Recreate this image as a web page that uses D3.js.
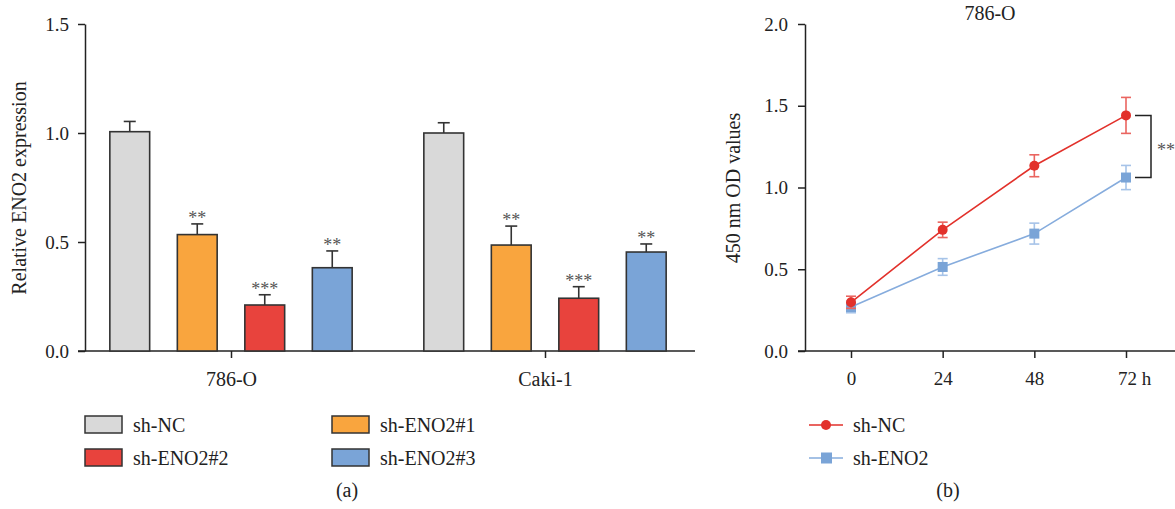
<!DOCTYPE html>
<html>
<head>
<meta charset="utf-8">
<script src="https://cdn.jsdelivr.net/npm/d3@7"></script>
<style>
  body { margin: 0; background: #fff; }
  svg { display: block; font-family: "Liberation Serif", "Times New Roman", serif; }
  .axis path, .axis line { stroke: #222; stroke-width: 1.5; }
  .axis text { font-size: 19px; fill: #222; font-family: "Liberation Serif", serif; }
</style>
</head>
<body>
<svg id="chart" width="1175" height="509"></svg>
<script>
// panel (a) data
const groups = ['786-O', 'Caki-1'];
const series = ['sh-NC', 'sh-ENO2#1', 'sh-ENO2#2', 'sh-ENO2#3'];
const barColors = ['#d9d9d9', '#f9a53e', '#e8433d', '#7aa4d7'];
const means786 = [1.006, 0.534, 0.211, 0.382];
const errs786 = [0.047, 0.049, 0.047, 0.077];
const meansCaki = [1.0, 0.486, 0.242, 0.454];
const errsCaki = [0.047, 0.087, 0.053, 0.037];
const stars786 = ['', '**', '***', '**'];
const starsCaki = ['', '**', '***', '**'];
const yTicksA = [0, 0.5, 1.0, 1.5];

// panel (b) data
const hours = [0, 24, 48, 72];
const ncMean = [0.298, 0.741, 1.133, 1.441];
const ncErr = [0.037, 0.047, 0.067, 0.11];
const enoMean = [0.269, 0.514, 0.718, 1.061];
const enoErr = [0.035, 0.051, 0.064, 0.074];
const yTicksB = [0, 0.5, 1.0, 1.5, 2.0];

const svg = d3.select('#chart');

// ---------- panel a ----------
const barData = [];
groups.forEach((g, gi) => {
    const m = gi === 0 ? means786 : meansCaki;
    const e = gi === 0 ? errs786 : errsCaki;
    const s = gi === 0 ? stars786 : starsCaki;
    series.forEach((name, i) => {
        barData.push({ group: g, series: name, value: m[i], err: e[i], star: s[i], color: barColors[i] });
    });
});

const yA = d3.scaleLinear().domain([0, 1.5]).range([351, 24]);
const x0 = d3.scalePoint().domain(groups).range([231, 545]);
const x1 = d3.scaleBand().domain(series).range([-135, 135]).paddingInner(0.41).paddingOuter(0.205);

const gA = svg.append('g');

gA.append('g')
    .attr('class', 'axis')
    .attr('transform', 'translate(85,0)')
    .call(d3.axisLeft(yA).tickValues(yTicksA).tickFormat(d3.format('.1f')).tickSize(7).tickSizeOuter(0).tickPadding(9));

const xAxisA = gA.append('g')
    .attr('class', 'axis')
    .attr('transform', 'translate(0,351)')
    .call(d3.axisBottom(x0).tickSize(7).tickPadding(14));
xAxisA.select('.domain').remove();
xAxisA.selectAll('text').style('font-size', '20px');
gA.append('line')
    .attr('x1', 78).attr('x2', 695).attr('y1', 351).attr('y2', 351)
    .attr('stroke', '#222').attr('stroke-width', 1.5);

const bars = gA.append('g').selectAll('g.bar')
    .data(barData)
    .join('g')
    .attr('transform', d => `translate(${x0(d.group) + x1(d.series)},0)`);

const bw = x1.bandwidth();
bars.append('line')
    .attr('x1', bw / 2).attr('x2', bw / 2)
    .attr('y1', d => yA(d.value)).attr('y2', d => yA(d.value + d.err))
    .attr('stroke', '#333').attr('stroke-width', 1.6);
bars.append('line')
    .attr('x1', bw / 2 - 6).attr('x2', bw / 2 + 6)
    .attr('y1', d => yA(d.value + d.err)).attr('y2', d => yA(d.value + d.err))
    .attr('stroke', '#333').attr('stroke-width', 1.6);
bars.append('rect')
    .attr('x', 0).attr('width', bw)
    .attr('y', d => yA(d.value))
    .attr('height', d => yA(0) - yA(d.value))
    .attr('fill', d => d.color)
    .attr('stroke', '#333').attr('stroke-width', 1.6);
bars.append('text')
    .attr('x', bw / 2)
    .attr('y', d => yA(d.value + d.err))
    .attr('text-anchor', 'middle')
    .attr('font-size', 18)
    .attr('fill', '#555')
    .text(d => d.star);

gA.append('text')
    .attr('transform', 'translate(26,188) rotate(-90)')
    .attr('text-anchor', 'middle')
    .attr('font-size', 20)
    .attr('fill', '#222')
    .text('Relative ENO2 expression');

// legend a
const legA = gA.append('g');
const legPos = [[85, 416], [332, 416], [85, 449], [332, 449]];
series.forEach((name, i) => {
    const [lx, ly] = legPos[i];
    legA.append('rect')
        .attr('x', lx).attr('y', ly).attr('width', 37).attr('height', 17)
        .attr('fill', barColors[i]).attr('stroke', '#333').attr('stroke-width', 1.5);
    legA.append('text')
        .attr('x', lx + 48).attr('y', ly + 15.5)
        .attr('font-size', 20).attr('fill', '#222')
        .text(name);
});
gA.append('text')
    .attr('x', 347).attr('y', 497)
    .attr('text-anchor', 'middle').attr('font-size', 20).attr('fill', '#222')
    .text('(a)');

// ---------- panel b ----------
const xB = d3.scaleLinear().domain([0, 72]).range([851, 1126]);
const yB = d3.scaleLinear().domain([0, 2]).range([351, 24]);
const gB = svg.append('g');

gB.append('g')
    .attr('class', 'axis')
    .attr('transform', 'translate(805,0)')
    .call(d3.axisLeft(yB).tickValues(yTicksB).tickFormat(d3.format('.1f')).tickSize(7).tickSizeOuter(0).tickPadding(10));

const xAxisB = gB.append('g')
    .attr('class', 'axis')
    .attr('transform', 'translate(0,351)')
    .call(d3.axisBottom(xB).tickValues(hours).tickSize(7).tickPadding(14)
        .tickFormat(d => d === 72 ? '72 h' : String(d)));
xAxisB.select('.domain').remove();
xAxisB.selectAll('text').filter(d => d === 72).attr('dx', 8);
gB.append('line')
    .attr('x1', 798).attr('x2', 1175).attr('y1', 351).attr('y2', 351)
    .attr('stroke', '#222').attr('stroke-width', 1.5);

gB.append('text')
    .attr('transform', 'translate(740,188) rotate(-90)')
    .attr('text-anchor', 'middle')
    .attr('font-size', 20)
    .attr('fill', '#222')
    .text('450 nm OD values');

gB.append('text')
    .attr('x', 990).attr('y', 20)
    .attr('text-anchor', 'middle').attr('font-size', 20).attr('fill', '#222')
    .text('786-O');

const lineSeries = [
    { name: 'sh-NC', mean: ncMean, err: ncErr, line: '#e2312b', errColor: '#ea6560', shape: 'circle' },
    { name: 'sh-ENO2', mean: enoMean, err: enoErr, line: '#86acdd', errColor: '#a6c3e8', shape: 'square' }
];

const line = d3.line().x(d => xB(d.h)).y(d => yB(d.m));

lineSeries.slice().reverse().forEach(s => {
    const pts = hours.map((h, i) => ({ h, m: s.mean[i], e: s.err[i] }));
    const g = gB.append('g');
    g.append('path')
        .attr('d', line(pts))
        .attr('fill', 'none').attr('stroke', s.line).attr('stroke-width', 1.6);
    const eb = g.selectAll('g.eb').data(pts).join('g');
    eb.append('line')
        .attr('x1', d => xB(d.h)).attr('x2', d => xB(d.h))
        .attr('y1', d => yB(d.m - d.e)).attr('y2', d => yB(d.m + d.e))
        .attr('stroke', s.errColor).attr('stroke-width', 1.6);
    ['-', '+'].forEach(sign => {
        eb.append('line')
            .attr('x1', d => xB(d.h) - 5).attr('x2', d => xB(d.h) + 5)
            .attr('y1', d => yB(sign === '+' ? d.m + d.e : d.m - d.e))
            .attr('y2', d => yB(sign === '+' ? d.m + d.e : d.m - d.e))
            .attr('stroke', s.errColor).attr('stroke-width', 1.6);
    });
    if (s.shape === 'circle') {
        g.selectAll('circle').data(pts).join('circle')
            .attr('cx', d => xB(d.h)).attr('cy', d => yB(d.m)).attr('r', 5)
            .attr('fill', s.line);
    } else {
        g.selectAll('rect').data(pts).join('rect')
            .attr('x', d => xB(d.h) - 5).attr('y', d => yB(d.m) - 5)
            .attr('width', 10).attr('height', 10)
            .attr('fill', '#7aa4d7');
    }
});

// significance bracket at 72 h
const bx = xB(72) + 9;
const yTop = yB(ncMean[3]);
const yBot = yB(enoMean[3]);
gB.append('path')
    .attr('d', `M${bx},${yTop}H${bx + 16}V${yBot}H${bx}`)
    .attr('fill', 'none').attr('stroke', '#222').attr('stroke-width', 1.5);
gB.append('text')
    .attr('x', bx + 22).attr('y', (yTop + yBot) / 2 + 10)
    .attr('font-size', 18).attr('fill', '#555')
    .text('**');

// legend b
lineSeries.forEach((s, i) => {
    const ly = 425 + i * 33;
    gB.append('line')
        .attr('x1', 809).attr('x2', 843).attr('y1', ly).attr('y2', ly)
        .attr('stroke', s.line).attr('stroke-width', 1.6);
    if (s.shape === 'circle') {
        gB.append('circle').attr('cx', 826).attr('cy', ly).attr('r', 5).attr('fill', s.line);
    } else {
        gB.append('rect').attr('x', 821).attr('y', ly - 5.5).attr('width', 11).attr('height', 11).attr('fill', '#7aa4d7');
    }
    gB.append('text')
        .attr('x', 853).attr('y', ly + 7)
        .attr('font-size', 20).attr('fill', '#222')
        .text(s.name);
});
gB.append('text')
    .attr('x', 948).attr('y', 497)
    .attr('text-anchor', 'middle').attr('font-size', 20).attr('fill', '#222')
    .text('(b)');
</script>
</body>
</html>
